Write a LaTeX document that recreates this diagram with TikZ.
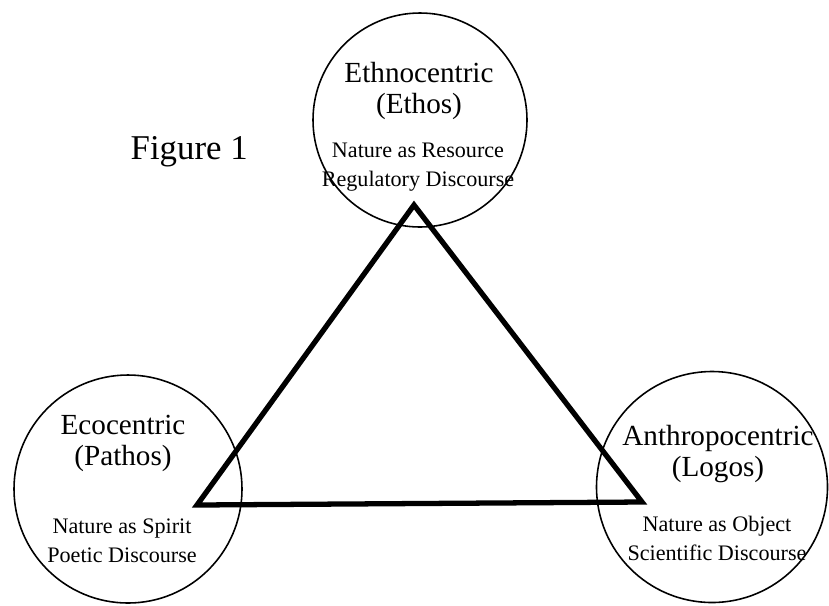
\documentclass[tikz,border=0pt]{standalone}
\usepackage{fontspec}
\setmainfont{Liberation Serif}

\begin{document}
\begin{tikzpicture}[
		ring/.style={draw, circle, line width=0.45pt, inner sep=0pt},
		head/.style={align=center, inner sep=0pt, font=\fontsize{8.3}{8.6}\selectfont},
		sub/.style={align=center, inner sep=0pt, font=\fontsize{6.3}{8}\selectfont}]
		\useasboundingbox (0,0) rectangle (8.29,6.05);

		% circles
		\node[ring, minimum size=2.14cm] (ethos) at (4.20,4.85) {};
		\node[ring, minimum size=2.28cm] (pathos) at (1.28,1.16) {};
		\node[ring, minimum size=2.31cm] (logos) at (7.12,1.18) {};

		% texts in the circles (base = last line)
		\node[head, anchor=base] (ethoshead) at (4.19,4.92) {Ethnocentric\\(Ethos)};
		\node[sub, anchor=base] (ethossub) at (4.18,4.19) {Nature as Resource\\Regulatory Discourse};
		\node[head, anchor=base] (pathoshead) at (1.23,1.40) {Ecocentric\\(Pathos)};
		\node[sub, anchor=base] (pathossub) at (1.22,0.43) {Nature as Spirit\\Poetic Discourse};
		\node[head, anchor=base] (logoshead) at (7.18,1.29) {Anthropocentric\\(Logos)};
		\node[sub, anchor=base] (logossub) at (7.17,0.45) {Nature as Object\\Scientific Discourse};

		\node[anchor=base west, inner sep=0pt, font=\fontsize{9.9}{11}\selectfont] (fig) at (1.30,4.46) {Figure 1};

		% triangle
		\coordinate (top) at (4.14,4.00);
		\coordinate (left) at (1.97,1.00);
		\coordinate (right) at (6.42,1.03);
		\draw[line width=1.5pt, line join=miter] (top) -- (right) -- (left) -- cycle;
	\end{tikzpicture}
\end{document}
